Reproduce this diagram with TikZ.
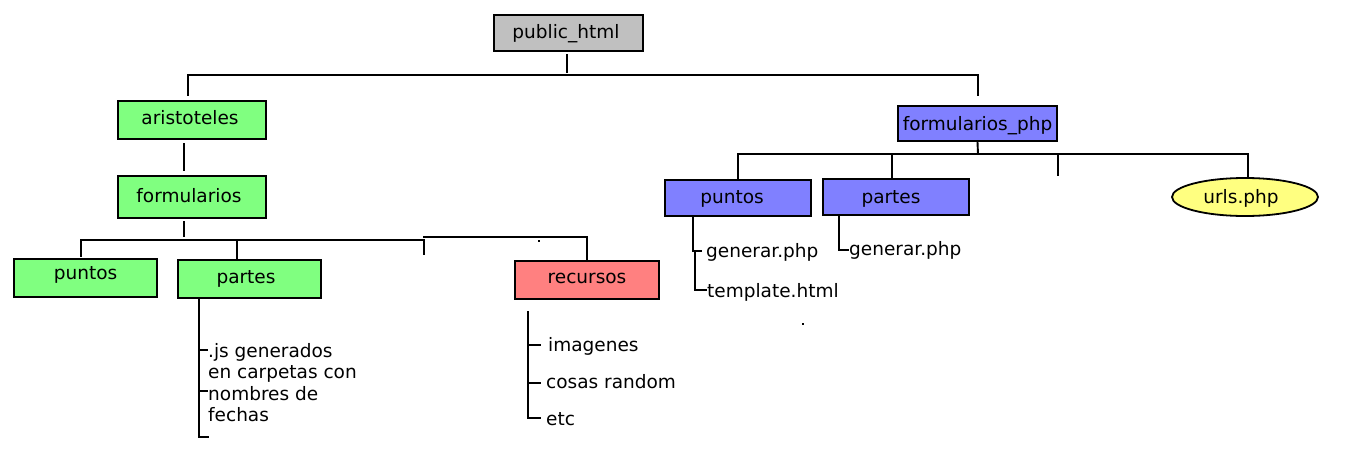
\documentclass[tikz,border=0pt]{standalone}
\usepackage{fontspec}
\setmainfont{DejaVu Sans}
\usetikzlibrary{shapes.geometric}
\definecolor{cgray}{HTML}{C0C0C0}
\definecolor{cgreen}{HTML}{80FF80}
\definecolor{cred}{HTML}{FF8080}
\definecolor{cblue}{HTML}{8080FF}
\definecolor{cyel}{HTML}{FFFF80}
\tikzset{
  lbl/.style={font=\fontsize{18.5}{21.5}\selectfont},
  box/.style={lbl, draw=black, line width=1.8pt, inner sep=0pt, text height=13pt, text depth=4pt},
  oval/.style={lbl, ellipse, draw=black, line width=1.8pt, inner sep=0pt, fill=cyel, text height=13pt, text depth=4pt},
  leaf/.style={lbl, anchor=base west, inner sep=0pt},
  tree/.style={line width=1.9pt, line cap=rect},
  speck/.style={fill=black, inner sep=0pt, minimum size=1.5pt, shape=rectangle}
}
\begin{document}
\begin{tikzpicture}[x=1pt,y=-1pt]
\useasboundingbox[fill=white] (0,0) rectangle (1369,471);

% boxes
\node[box, fill=cgray, minimum width=149, minimum height=36] (pub) at (568.5,33) {\hspace*{-5pt}\raisebox{-1pt}{public\_html}};
\node[box, fill=cgreen, minimum width=148, minimum height=38] (arist) at (192,120) {\hspace*{-4pt}aristoteles};
\node[box, fill=cgreen, minimum width=148, minimum height=42] (form) at (192,197) {\hspace*{-6pt}\raisebox{-1pt}{formularios}};
\node[box, fill=cgreen, minimum width=143, minimum height=38] (pl) at (85.5,278) {\raisebox{3pt}{puntos}};
\node[box, fill=cgreen, minimum width=143, minimum height=38] (pa) at (249.5,279) {\hspace*{-7pt}partes};
\node[box, fill=cred, minimum width=144, minimum height=38] (rec) at (587,280) {\raisebox{1pt}{recursos}};
\node[box, fill=cblue, minimum width=159, minimum height=35] (fphp) at (977.5,123.5) {\raisebox{-2pt}{formularios\_php}};
\node[box, fill=cblue, minimum width=146, minimum height=36] (pr) at (738,198) {\hspace*{-12pt}\raisebox{-1pt}{puntos}};
\node[box, fill=cblue, minimum width=146, minimum height=36] (par) at (896,197) {\hspace*{-10pt}\raisebox{-2pt}{partes}};
\node[oval, minimum width=146, minimum height=38] (urls) at (1245,197) {\hspace*{-8pt}\raisebox{-2pt}{urls.php}};

% leaves
\node[lbl, anchor=north west, inner sep=0pt, align=left] (js) at (208,343) {.js generados\\en carpetas con\\nombres de\\fechas};
\node[leaf] (img) at (548,351) {imagenes};
\node[leaf] (cosas) at (546,388) {cosas random};
\node[leaf] (etc) at (546,425) {etc};
\node[leaf] (gen1) at (706,257) {generar.php};
\node[leaf] (tpl) at (707,297) {template.html};
\node[leaf] (gen2) at (849,255) {generar.php};

% specks
\node[speck] (s1) at (539,241) {};
\node[speck] (s2) at (803,324) {};

% top level
\coordinate (t0) at (567,55);
\coordinate (t1) at (567,72);
\coordinate (tl) at (188,75);
\coordinate (tr) at (978,75);
\draw[tree] (t0) -- (t1);
\draw[tree] (tl) -- (tr);
\draw[tree] (tl) -- (188,95);
\draw[tree] (tr) -- (978,95);

% aristoteles -> formularios
\draw[tree] (184,144) -- (184,170);
\draw[tree] (184,222) -- (184,236);
\coordinate (b1) at (81,240);
\coordinate (b2) at (424,240);
\coordinate (b3) at (424,237);
\coordinate (b4) at (587,237);
\draw[tree] (b1) -- (b2);
\draw[tree] (b1) -- (81,256);
\draw[tree] (237,240) -- (237,258);
\draw[tree] (b2) -- (424,254);
\draw[tree] (b3) -- (b4);
\draw[tree] (b4) -- (rec.north -| b4);

% partes tree
\coordinate (pa0) at (pa.south -| 199,0);
\draw[tree] (pa0) -- (199,437) -- (208,437);
\draw[tree] (199,350) -- (207,350);
\draw[tree] (199,391) -- (207,391);

% recursos tree
\draw[tree] (528,312) -- (528,418) -- (540,418);
\draw[tree] (528,345) -- (540,345);
\draw[tree] (528,383) -- (540,383);

% formularios_php
\coordinate (f0) at (fphp.south);
\coordinate (fb) at (978,154);
\draw[tree] (f0) -- (fb);
\draw[tree] (738,154) -- (1248,154);
\draw[tree] (738,154) -- (pr.north -| 738,0);
\draw[tree] (892,154) -- (par.north -| 892,0);
\draw[tree] (1058,154) -- (1058,175);
\draw[tree] (1248,154) -- (urls.north -| 1248,0);

% puntos (right) tree
\draw[tree] (pr.south -| 693,0) -- (693,251) -- (701,251);
\draw[tree] (695,251) -- (695,290) -- (706,290);
% partes (right) tree
\draw[tree] (par.south -| 839,0) -- (839,250) -- (848,250);
\end{tikzpicture}
\end{document}
